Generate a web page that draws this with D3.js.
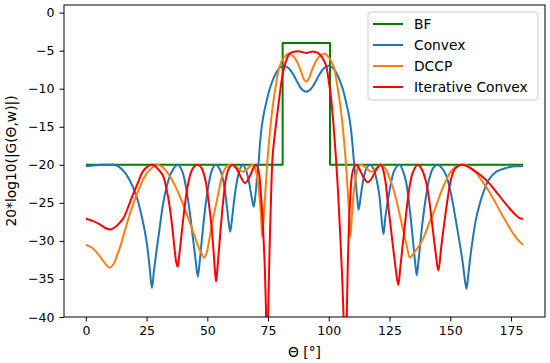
<!DOCTYPE html>
<html>
<head>
<meta charset="utf-8">
<script src="https://cdn.jsdelivr.net/npm/d3@7"></script>
<style>
  body { margin: 0; background: #fff; }
  text { font-family: "DejaVu Sans", sans-serif; fill: #000; }
</style>
</head>
<body>
<svg id="chart" width="550" height="363"></svg>
<script>
// series names, in draw order
var seriesNames = ["BF", "Convex", "DCCP", "Iterative Convex"];
var seriesColors = ["#008000", "#1f77b4", "#ff7f0e", "#ff0000"];
var xTicks = [0, 25, 50, 75, 100, 125, 150, 175];
var yTicks = [0, -5, -10, -15, -20, -25, -30, -35, -40];

// [theta (deg), gain (dB)]
var bf = [[0, -20], [81, -20], [81, -4], [100.5, -4], [100.5, -20], [180, -20]];

var convex = [
  [0, -20.2], [3, -20.1], [6, -20.0], [9, -20.0], [11.8, -20.0], [13.8, -20.3], [16, -21.0],
  [18, -22.0], [20.7, -24.0], [22.8, -26.5], [24.8, -29.7], [26.2, -33.3], [27.2, -36.2],
  [28.0, -34.0], [29.0, -31.5], [30.3, -28.5], [31.6, -25.5], [33.1, -23.1], [35.2, -21.0],
  [37.8, -20.0], [39.6, -20.8], [41.3, -23.1], [42.8, -26.3], [44.1, -29.7], [45.2, -32.6],
  [46.1, -34.7], [46.9, -32.6], [48, -29.0], [49.2, -25.5], [50.6, -22.5], [52, -20.6],
  [53.4, -20.0], [55, -20.5], [56.5, -22.0], [57.7, -24.5], [58.7, -27.3], [59.4, -28.8],
  [60.1, -27.3], [61.1, -24.5], [62.3, -22.0], [63.5, -20.5], [64.6, -20.0], [65.8, -20.6],
  [67, -22.0], [68.2, -24.2], [69.1, -25.5], [69.8, -24.0], [70.5, -21.5], [71.2, -19.4],
  [71.6, -17.5], [72.4, -15.0], [73.3, -13.2], [74.2, -11.9], [75.5, -10.2], [76.9, -8.9],
  [78.5, -7.8], [80, -7.2], [81.7, -7.0], [83.5, -7.3], [85.5, -8.2], [87.5, -9.4],
  [89, -10.1], [90.7, -10.4], [92.4, -10.1], [94, -9.4], [96, -8.2], [98, -7.3], [99.7, -7.0],
  [101.4, -7.2], [102.9, -7.8], [104.5, -8.9], [105.9, -10.2], [107.2, -11.9], [108.1, -13.2],
  [109, -15.0], [109.8, -17.5], [110.3, -19.4], [110.9, -21.5], [111.6, -24.0], [112.3, -25.9],
  [113.2, -24.0], [114.2, -22.0], [115.5, -20.5], [117, -20.0], [118.5, -20.6], [119.7, -22.0],
  [120.8, -24.0], [121.7, -27.0], [122.5, -29.1], [123.4, -26.6], [124.9, -23.6], [126, -21.8],
  [127, -20.7], [129.1, -20.0], [130.5, -20.8], [131.8, -22.2], [133, -25.0], [133.9, -27.5],
  [134.9, -30.8], [135.7, -33.3], [136.2, -34.5], [136.8, -33.0], [137.7, -30.2], [138.6, -27.5],
  [140, -24.2], [141.4, -21.8], [143, -20.4], [144.8, -20.0], [146.5, -20.4], [148.3, -21.4],
  [150.3, -23.8], [152.4, -27.5], [154, -30.5], [155.1, -32.8], [156.1, -35.3], [156.7, -36.3],
  [157.4, -34.5], [158.3, -32.0], [159.2, -29.9], [160.5, -27.3], [162, -25.3], [164, -23.3],
  [166, -21.9], [169, -20.9], [173, -20.4], [176.5, -20.2], [180, -20.15]
];

var dccp = [
  [0, -30.5], [2.5, -30.9], [5, -31.7], [7.5, -32.8], [9.8, -33.5], [11.5, -33.0], [12.7, -32.0],
  [13.9, -31.0], [16, -28.7], [18, -26.6], [20, -24.7], [22.1, -23.0], [24.1, -21.6],
  [26.2, -20.7], [28, -20.2], [29.6, -20.0], [31.5, -20.3], [34.4, -21.4], [36.5, -22.6],
  [38.5, -24.0], [40.6, -25.7], [42.7, -27.5], [44.5, -29.1], [46.1, -30.6], [47.5, -31.6],
  [48.6, -32.2], [49.5, -31.8], [50.5, -30.4], [51.8, -28.0], [53.6, -25.2], [55, -23.0],
  [56.4, -21.1], [58, -20.2], [59.8, -20.0], [61.5, -20.2], [63, -20.6], [64.6, -20.9],
  [66.3, -20.6], [67.6, -20.2], [68.7, -20.0], [69.8, -20.6], [70.8, -22.2], [71.6, -24.6],
  [72.2, -27.3], [72.6, -29.5], [73.1, -27.5], [73.7, -24.5], [74.3, -21.5], [74.9, -18.8],
  [75.9, -15.2], [76.9, -12.4], [78.2, -9.6], [79.7, -7.1], [81.5, -5.9], [83.5, -5.4],
  [85.3, -5.7], [87, -6.5], [88.5, -7.7], [89.8, -8.8], [90.7, -9.1], [91.6, -8.8], [92.9, -7.7],
  [94.5, -6.5], [96.2, -5.7], [98.2, -5.4], [100.1, -5.9], [102, -7.1], [103.5, -9.6],
  [104.8, -12.4], [105.8, -15.2], [106.8, -18.8], [107.4, -21.5], [108, -24.5], [108.5, -27.5],
  [108.9, -29.5], [109.4, -27.3], [110, -24.6], [110.8, -22.2], [111.8, -20.6], [113, -20.0],
  [114.5, -20.2], [116, -20.6], [117.4, -20.9], [119, -20.6], [120.3, -20.2], [121.5, -20.0],
  [123.5, -20.6], [125.3, -22.0], [127, -23.6], [128.8, -26.0], [130.5, -28.4], [132, -30.5],
  [133.4, -32.2], [134.5, -31.8], [135.8, -31.2], [137.3, -30.6], [139.5, -29.2], [141.4, -27.6],
  [143.5, -26.0], [145.5, -24.2], [147.5, -22.6], [149.6, -21.2], [151.7, -20.4], [153.7, -20.1],
  [155.8, -20.0], [158, -20.3], [160.5, -21.0], [163, -22.1], [166, -23.5], [169, -25.2],
  [171, -26.4], [173, -27.5], [175, -28.6], [177, -29.5], [178.5, -30.1], [180, -30.5]
];

var iterConvex = [
  [0, -27.1], [3, -27.4], [5.6, -27.8], [8, -28.3], [10.2, -28.5], [12, -28.2], [14, -27.6],
  [15.5, -27.0], [17.5, -25.5], [19.3, -24.0], [21.5, -22.3], [23.4, -20.9], [25.5, -20.2],
  [27.6, -20.0], [29.5, -20.5], [31.7, -21.4], [33.2, -23.2], [34.4, -25.3], [35.5, -28.0],
  [36.5, -31.0], [37.2, -32.8], [37.8, -33.4], [38.4, -32.0], [39.2, -29.7], [40.2, -26.8],
  [41.3, -24.0], [42.3, -22.2], [43.4, -20.9], [44.7, -20.2], [46.1, -20.0], [47.6, -20.4],
  [49.2, -22.0], [50.6, -25.0], [51.7, -28.0], [52.6, -31.5], [53.2, -34.2], [53.6, -35.3],
  [54, -34.2], [54.7, -31.5], [55.6, -28.0], [56.6, -24.5], [57.8, -21.6], [59, -20.4],
  [60.2, -20.0], [62, -20.5], [63.8, -21.6], [65.5, -22.4], [67.5, -21.5], [69, -20.4],
  [70.1, -20.0], [71.2, -21.0], [72.1, -24.0], [72.9, -28.0], [73.6, -33.0], [74.1, -38.5],
  [74.6, -47], [75.1, -38.5], [75.6, -31.5], [76.2, -24.5], [76.9, -18.8], [78.3, -14.6],
  [79.7, -11.0], [80.7, -8.7], [81.7, -7.1], [82.8, -6.0], [83.8, -5.4], [85.5, -5.15],
  [87.9, -5.1], [90.7, -5.3], [93.5, -5.1], [95.5, -5.3], [96.8, -5.7], [98, -6.3], [98.9, -7.0],
  [99.9, -8.8], [100.9, -11.1], [102, -15.0], [103, -19.4], [103.8, -23.5], [104.6, -28.5],
  [105.4, -34], [106.1, -40], [107, -48], [107.5, -38], [108, -31.2], [108.8, -24.6],
  [109.8, -20.9], [111.2, -20.0], [112.5, -20.5], [114.2, -21.6], [116, -22.3], [117.8, -21.7],
  [119.6, -20.6], [121.4, -20.0], [122.5, -20.8], [123.5, -22.6], [124.3, -25.0], [125.5, -28.2],
  [126.6, -31.2], [127.6, -33.8], [128.6, -35.8], [129.4, -33.6], [130.2, -31.2], [131.1, -28.6],
  [132.2, -25.4], [133.2, -23.0], [134.6, -21.0], [136.6, -20.0], [138.3, -20.6], [140, -22.2],
  [141.4, -24.8], [142.7, -28.2], [144, -31.6], [145.1, -33.9], [146.3, -30.8], [147.6, -27.5],
  [149, -24.3], [150.3, -21.9], [152, -20.5], [154.5, -20.0], [157, -20.2], [160, -20.8],
  [163, -21.5], [166, -22.4], [170, -24.0], [173, -25.2], [176, -26.3], [178.5, -27.0], [180, -27.1]
];

var allSeries = [bf, convex, dccp, iterConvex];

var margin = {top: 5, right: 5, bottom: 46, left: 64};
var width = 550 - margin.left - margin.right;
var height = 363 - margin.top - margin.bottom;

var svg = d3.select("#chart");

svg.append("defs").append("clipPath")
  .attr("id", "plotclip")
  .append("rect")
  .attr("width", width)
  .attr("height", height);

var g = svg.append("g")
  .attr("transform", "translate(" + margin.left + "," + margin.top + ")");

var x = d3.scaleLinear().domain([-9, 189]).range([0, width]);
var y = d3.scaleLinear().domain([-40, 1]).range([height, 0]);

// lines
var plot = g.append("g").attr("clip-path", "url(#plotclip)");

var smooth = d3.line()
  .x(function(d) { return x(d[0]); })
  .y(function(d) { return y(d[1]); })
  .curve(d3.curveCatmullRom.alpha(0.5));

var straight = d3.line()
  .x(function(d) { return x(d[0]); })
  .y(function(d) { return y(d[1]); });

allSeries.forEach(function(s, i) {
  plot.append("path")
    .datum(s)
    .attr("fill", "none")
    .attr("stroke", seriesColors[i])
    .attr("stroke-width", 2)
    .attr("stroke-linejoin", "round")
    .attr("d", i == 0 ? straight : smooth);
});

// axes
var xAxis = g.append("g")
  .attr("transform", "translate(0," + height + ")")
  .call(d3.axisBottom(x).tickValues(xTicks).tickSize(4.5).tickPadding(5).tickFormat(d3.format("d")));

var yAxis = g.append("g")
  .call(d3.axisLeft(y).tickValues(yTicks).tickSize(4.5).tickPadding(5).tickFormat(d3.format("d")));

[xAxis, yAxis].forEach(function(a) {
  a.select(".domain").remove();
  a.selectAll(".tick line").attr("stroke", "#000").attr("stroke-width", 1);
  a.selectAll(".tick text")
    .style("font-family", "DejaVu Sans")
    .style("font-size", "12.5px")
    .attr("fill", "#000");
});

// frame
g.append("rect")
  .attr("width", width)
  .attr("height", height)
  .attr("fill", "none")
  .attr("stroke", "#000")
  .attr("stroke-width", 1);

// axis labels
svg.append("text")
  .attr("x", margin.left + width / 2)
  .attr("y", 357)
  .attr("text-anchor", "middle")
  .style("font-size", "13.8px")
  .text("Θ [°]");

svg.append("text")
  .attr("transform", "translate(16," + (margin.top + height / 2) + ") rotate(-90)")
  .attr("text-anchor", "middle")
  .style("font-size", "13.8px")
  .text("20*log10(|G(Θ,w)|)");

// legend
var legend = svg.append("g").attr("transform", "translate(368,12)");

legend.append("rect")
  .attr("width", 170)
  .attr("height", 88)
  .attr("rx", 3)
  .attr("fill", "#fff")
  .attr("fill-opacity", 0.8)
  .attr("stroke", "#ccc")
  .attr("stroke-width", 1);

var item = legend.selectAll(".item")
  .data(seriesNames)
  .enter()
  .append("g")
  .attr("transform", function(d, i) { return "translate(0," + (12 + i * 21) + ")"; });

item.append("line")
  .attr("x1", 5)
  .attr("x2", 35)
  .attr("stroke", function(d, i) { return seriesColors[i]; })
  .attr("stroke-width", 2);

item.append("text")
  .attr("x", 46)
  .attr("dy", "0.36em")
  .style("font-size", "13.8px")
  .text(function(d) { return d; });
</script>
</body>
</html>
